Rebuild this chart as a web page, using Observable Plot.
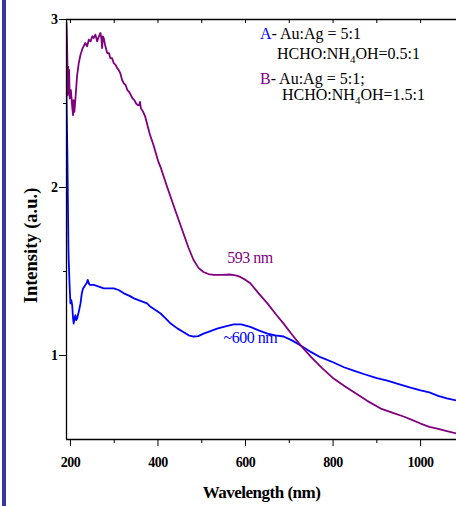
<!DOCTYPE html>
<html><head><meta charset="utf-8">
<script src="https://cdn.jsdelivr.net/npm/d3@7"></script>
<script src="https://cdn.jsdelivr.net/npm/@observablehq/plot@0.6"></script>
<style>
html,body{margin:0;padding:0;background:#fff;}
#wrap{position:relative;width:456px;height:506px;overflow:hidden;background:#fff;}
#bar{position:absolute;left:2px;top:0;width:4px;height:506px;background:#3535a8;}
.lg{position:absolute;font-family:"Liberation Serif",serif;font-size:16px;line-height:15px;color:#000;white-space:nowrap;}
.lg sub{font-size:11px;vertical-align:-4px;line-height:0;}
#chart svg text{font-family:"Liberation Serif",serif !important;}
</style></head><body>
<div id="wrap"><div id="chart"></div><div id="bar"></div><div id="legend"></div></div>
<script>
// Series B (purple): wavelength (nm), intensity (a.u.)
const seriesB = [[191,2.98],[192,2.9],[193,2.75],[194,2.55],[195,2.72],[196,2.6],[197,2.7],[198.4,2.53],[201,2.58],[204,2.48],[206,2.43],[207,2.52],[209,2.45],[212,2.55],[215,2.66],[219,2.74],[223,2.79],[228,2.83],[234,2.86],[238,2.84],[242,2.88],[246,2.87],[250,2.9],[253,2.89],[257,2.91],[261,2.87],[265,2.9],[268.6,2.92],[271,2.88],[272.4,2.83],[274,2.9],[276,2.89],[279,2.85],[284,2.8],[288,2.8],[291,2.77],[295,2.77],[299,2.74],[303,2.73],[307,2.71],[310,2.7],[314,2.68],[318,2.64],[322,2.62],[326,2.61],[330,2.58],[334,2.57],[338,2.55],[342,2.53],[346,2.52],[350,2.5],[354,2.49],[357,2.49],[359,2.51],[361,2.47],[364,2.46],[368,2.44],[371,2.42],[376,2.37],[381,2.32],[390,2.25],[400,2.16],[406,2.12],[420,2.01],[440,1.86],[455,1.75],[470,1.64],[481,1.57],[493,1.52],[504,1.497],[515,1.485],[527,1.48],[545,1.48],[566,1.482],[580,1.475],[589,1.466],[600,1.45],[611,1.43],[630,1.37],[650,1.31],[668,1.25],[687,1.19],[706,1.125],[726,1.06],[750,0.99],[775,0.925],[802,0.861],[825,0.82],[847,0.782],[878,0.73],[909,0.684],[935,0.66],[961,0.637],[980,0.617],[1000,0.595],[1020,0.575],[1038,0.565],[1060,0.55],[1082,0.536]];
// Series A (blue)
const seriesA = [[191,2.55],[193,2.2],[194.5,1.85],[195.4,1.64],[196,1.57],[198,1.42],[200,1.31],[202,1.33],[204,1.3],[206,1.22],[207.5,1.19],[209,1.22],[211.4,1.24],[213,1.21],[215.3,1.22],[219,1.26],[223,1.31],[226,1.37],[229,1.4],[232,1.41],[234,1.42],[237,1.43],[239.5,1.45],[242,1.43],[244,1.42],[253,1.42],[265,1.41],[276,1.4],[290,1.4],[299,1.4],[310,1.39],[322,1.37],[335,1.355],[345,1.34],[360,1.325],[375,1.31],[383,1.29],[395,1.27],[406,1.25],[418,1.22],[429,1.19],[445,1.16],[458,1.14],[470,1.12],[481,1.113],[492,1.115],[504,1.13],[520,1.145],[535,1.16],[550,1.17],[573,1.185],[590,1.185],[611,1.17],[630,1.15],[650,1.13],[668,1.12],[687,1.113],[706,1.09],[726,1.06],[750,1.02],[771,0.99],[800,0.96],[825,0.93],[847,0.91],[870,0.89],[900,0.865],[924,0.851],[950,0.83],[975,0.81],[1000,0.792],[1020,0.78],[1040,0.76],[1060,0.745],[1082,0.732]];

const xDomain = [191, 1082];
const yDomain = [0.5, 3];
const xTicks = [200, 400, 600, 800, 1000];
const xMinor = [300, 500, 700, 900];
const xTop = [200, 300, 400, 500, 600, 700, 800, 900, 1000];
const yTicks = [1, 2, 3];
const yMinor = [1.5, 2.5];
const notes = [
  {x: 610, y: 1.58, label: "593 nm", color: "#800080"},
  {x: 611, y: 1.104, label: "~600 nm", color: "#0000ff"}
];
const xLabel = "Wavelength (nm)";
const yLabel = "Intensity (a.u.)";
const purple = "#800080", blue = "#0000ff";

const chart = Plot.plot({
  width: 456, height: 506,
  marginLeft: 66, marginRight: 0, marginTop: 19, marginBottom: 67,
  x: {domain: xDomain},
  y: {domain: yDomain},
  style: {fontFamily: "Liberation Serif, serif", fontSize: "14px", background: "transparent", overflow: "visible", color: "#000"},
  marks: [
    Plot.line(seriesA, {x: d => d[0], y: d => d[1], stroke: blue, strokeWidth: 1.8, clip: true}),
    Plot.line(seriesB, {x: d => d[0], y: d => d[1], stroke: purple, strokeWidth: 1.8, clip: true}),
    Plot.ruleX([xDomain[0]], {stroke: "#000", strokeWidth: 1.3}),
    Plot.ruleY([yDomain[0]], {stroke: "#000", strokeWidth: 1.3}),
    Plot.ruleY([yDomain[1]], {stroke: "#000", strokeWidth: 1.3}),
    Plot.axisX(xTicks, {tickSize: 7, tickPadding: 11, fontWeight: "bold", tickFormat: d => String(d), label: null}),
    Plot.axisX(xMinor, {tickSize: 4, tickFormat: () => "", label: null}),
    Plot.axisX(xTop, {anchor: "top", tickSize: -3, tickFormat: () => "", label: null}),
    Plot.axisY(yTicks, {tickSize: 7, tickPadding: 2, fontWeight: "bold", tickFormat: d => String(d), label: null}),
    Plot.axisY(yMinor, {tickSize: 3, tickFormat: () => "", label: null}),
    Plot.text(notes, {x: "x", y: "y", text: "label", fill: "color", fontSize: 16}),
    Plot.text([xLabel], {frameAnchor: "bottom", dy: 58, fontWeight: "bold", fontSize: 17}),
    Plot.text([yLabel], {frameAnchor: "left", textAnchor: "middle", rotate: -90, dx: -35, dy: 16, fontWeight: "bold", fontSize: 18.5})
  ]
});
d3.select(chart).selectAll("text").style("letter-spacing", "-0.5px");
d3.select(chart).selectAll("text").filter(function() { return this.textContent === yLabel; }).style("letter-spacing", "0px");
document.getElementById("chart").appendChild(chart);

const legendLines = [
  {left: 260, top: 26, key: "A", keyColor: blue, html: "- Au:Ag = 5:1"},
  {left: 277, top: 46, key: "", keyColor: "", html: "HCHO:NH<sub>4</sub>OH=0.5:1"},
  {left: 260, top: 71, key: "B", keyColor: purple, html: "- Au:Ag = 5:1;"},
  {left: 282, top: 87, key: "", keyColor: "", html: "HCHO:NH<sub>4</sub>OH=1.5:1"}
];
const lg = document.getElementById("legend");
for (const l of legendLines) {
  const d = document.createElement("div");
  d.className = "lg";
  d.style.left = l.left + "px";
  d.style.top = l.top + "px";
  d.innerHTML = (l.key ? `<span style="color:${l.keyColor}">${l.key}</span>` : "") + l.html;
  lg.appendChild(d);
}
</script>
</body></html>
